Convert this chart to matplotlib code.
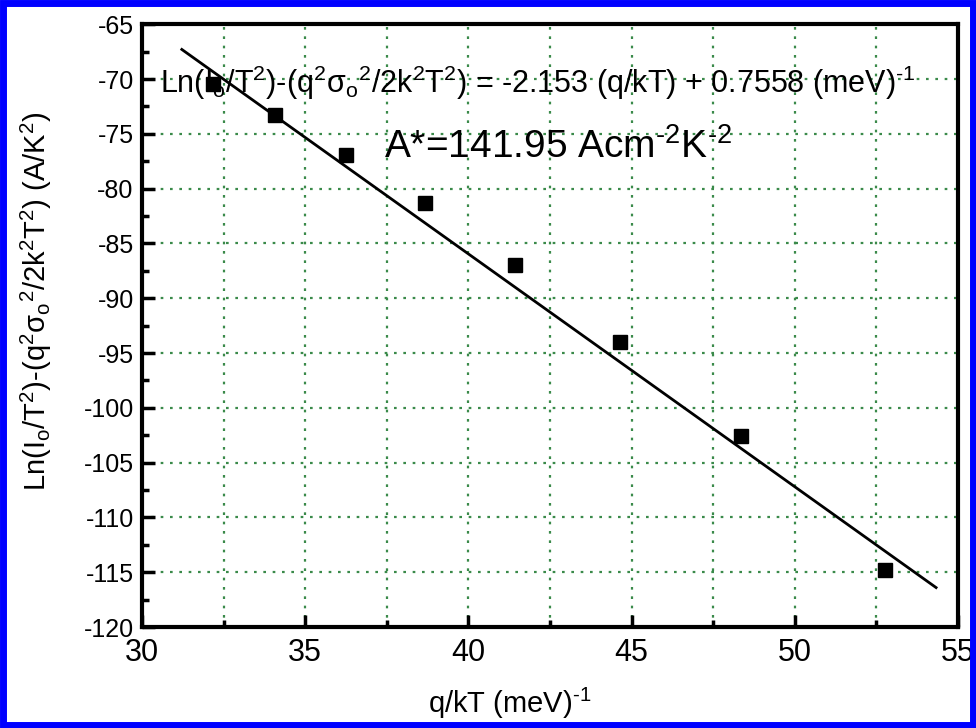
import matplotlib
matplotlib.use("Agg")
import matplotlib.pyplot as plt
from matplotlib.patches import Rectangle
from matplotlib.ticker import MultipleLocator

plt.rcParams['font.family'] = ['Liberation Sans', 'DejaVu Sans']
plt.rcParams['mathtext.fontset'] = 'custom'
plt.rcParams['mathtext.rm'] = 'Liberation Sans'
plt.rcParams['mathtext.it'] = 'Liberation Sans'
plt.rcParams['mathtext.default'] = 'regular'
plt.rcParams['axes.unicode_minus'] = False

# data
qkT = [32.18, 34.07, 36.25, 38.67, 41.43, 44.64, 48.35, 52.76]
lnJ = [-70.47, -73.3, -76.95, -81.33, -87.0, -94.0, -102.6, -114.8]
fit_x = [31.22, 54.33]
fit_y = [-67.3, -116.4]

x_ticks = [30, 35, 40, 45, 50, 55]
y_ticks = [-120, -115, -110, -105, -100, -95, -90, -85, -80, -75, -70, -65]

eq_text = (r'Ln(I$_o$/T$^2$)-(q$^2$σ$_o$$^2$/2k$^2$T$^2$) = -2.153 (q/kT) + 0.7558 (meV)$^{\text{-}1}$')
a_text = r'A*=141.95 Acm$^{\text{-}2}$K$^{\text{-}2}$'

fig = plt.figure(figsize=(9.76, 7.28), dpi=100)
ax = fig.add_axes([0.1455, 0.1387, 0.836, 0.828])

green = '#3a8a4a'
ax.set_xlim(30, 55)
ax.set_ylim(-120, -65)
ax.xaxis.set_major_locator(MultipleLocator(5))
ax.xaxis.set_minor_locator(MultipleLocator(2.5))
ax.yaxis.set_major_locator(MultipleLocator(5))
ax.yaxis.set_minor_locator(MultipleLocator(2.5))
ax.set_xticks(x_ticks)
ax.set_yticks(y_ticks)
ax.grid(True, which='major', axis='y', color=green, linestyle=(0, (1.2, 3)), linewidth=1.6)
ax.grid(True, which='both', axis='x', color=green, linestyle=(0, (1.2, 3)), linewidth=1.6)
ax.set_axisbelow(True)

ax.plot(fit_x, fit_y, color='black', linewidth=2.0, zorder=3)
ax.plot(qkT, lnJ, linestyle='none', marker='s', markersize=10, color='black', zorder=4)

for s in ax.spines.values():
    s.set_linewidth(3)
ax.tick_params(which='both', direction='in', top=False, right=False, width=2.5)
ax.tick_params(which='major', length=9)
ax.tick_params(which='minor', length=5)
ax.tick_params(axis='x', labelsize=22, pad=8)
ax.tick_params(axis='y', labelsize=18, pad=6)

ax.set_xlabel(r'q/kT (meV)$^{\text{-}1}$', fontsize=21)
ax.xaxis.set_label_coords(0.45, -0.098)
ax.set_ylabel(r'Ln(I$_o$/T$^2$)-(q$^2$σ$_o$$^2$/2k$^2$T$^2$) (A/K$^2$)', fontsize=21)
ax.yaxis.set_label_coords(-0.108, 0.54)

ax.text(30.55, -71.3, eq_text, fontsize=22, color='black', zorder=5)
ax.text(37.4, -77.2, a_text, fontsize=28, color='black', zorder=5)

fig.patches.append(Rectangle((0.003, 0.004), 0.994, 0.992, transform=fig.transFigure,
                             fill=False, edgecolor='#0000ff', linewidth=5))

fig.savefig('out.png', dpi=100)
